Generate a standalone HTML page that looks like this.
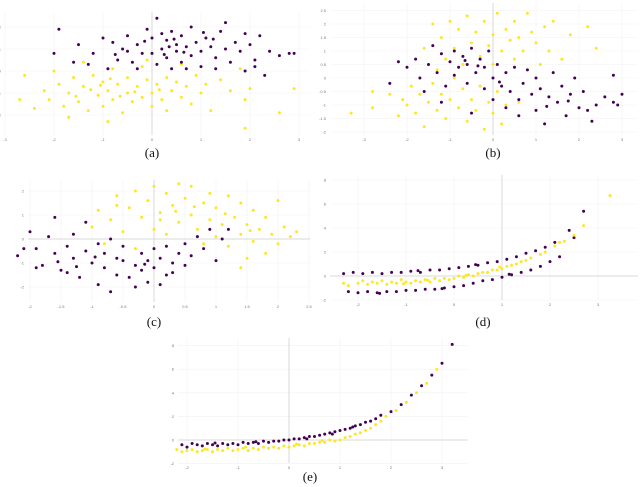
<!DOCTYPE html>
<html><head><meta charset="utf-8"><style>
body{margin:0;background:#fff}
svg{display:block}
.tk{font-family:"Liberation Sans",sans-serif;font-size:4px;fill:#777}
.cap{font-family:"Liberation Serif",serif;font-size:13px;fill:#111}
</style></head><body>
<svg id="fig" width="640" height="487" viewBox="0 0 640 487" xmlns="http://www.w3.org/2000/svg">
<text class="cap" x="152" y="157" text-anchor="middle">(a)</text>
<text class="cap" x="493" y="157" text-anchor="middle">(b)</text>
<text class="cap" x="154" y="326" text-anchor="middle">(c)</text>
<text class="cap" x="483" y="326" text-anchor="middle">(d)</text>
<text class="cap" x="310" y="481" text-anchor="middle">(e)</text>
</svg>
<script>
// ---- data (x, y pairs) ----
const aPurple=[[-1.9,1.9],[-1.5,1.2],[-1.2,0.8],[-1,1.5],[-0.8,1.3],[-0.7,0.5],[-0.6,1],[-0.5,1.6],[-0.4,0.4],[-0.3,1.2],[-0.2,0.8],[-0.1,1.9],[0,1.5],[0.1,0.3],[0.1,2.4],[0.2,1],[0.3,1.4],[0.3,0.6],[0.4,1.8],[0.5,0.9],[0.5,1.2],[0.6,0.4],[0.6,1.6],[0.7,1.1],[0.8,0.7],[0.8,2],[0.9,1.3],[1,0.9],[1,0.2],[1.1,1.5],[1.2,1.1],[1.3,0.6],[1.4,1.8],[1.5,1],[1.6,0.4],[1.7,1.3],[1.8,0.9],[1.9,1.7],[2,1.2],[2.1,0.5],[2.2,1.6],[2.4,0.9],[2.6,0.7],[2.8,0.8],[2.9,0.8],[-1.3,0.3],[-0.9,0.1],[0,0.8],[0.4,0.1],[1.3,0.1],[-0.5,0.9],[0.2,1.7],[0.7,0.1],[1.9,0],[2.1,0.2],[-2,0.8],[-1.6,0.4],[1.5,2.2],[-0.3,0.1],[2.3,-0.2],[0.35,1.1],[0.45,1.45],[0.25,0.75],[-0.15,1.35],[1.05,1.75],[0.65,0.85],[1.25,1.45],[-0.75,0.75]];
const aYellow=[[-2.7,-1.3],[-2.6,-0.2],[-2.4,-1.7],[-2.2,-0.9],[-2.1,-1.3],[-2,0],[-1.9,-0.6],[-1.8,-1.6],[-1.7,-1],[-1.6,-0.3],[-1.5,-1.4],[-1.4,-0.7],[-1.3,-1.8],[-1.2,-0.2],[-1.1,-1.1],[-1,-0.5],[-1,-1.6],[-0.9,-0.9],[-0.8,-1.3],[-0.8,0.1],[-0.7,-0.6],[-0.6,-1.9],[-0.5,-1],[-0.5,-0.3],[-0.4,-1.4],[-0.3,-0.7],[-0.2,-1.2],[-0.2,0.2],[-0.1,-0.4],[0,-1],[0,-1.6],[0.1,-0.6],[0.2,-1.3],[0.3,-0.3],[0.3,-1.8],[0.4,-0.9],[0.5,-0.5],[0.6,-1.2],[0.7,-0.7],[0.8,-1.5],[0.9,-0.2],[1,-1],[1.1,-0.6],[1.2,-1.8],[1.4,-0.4],[1.6,-0.9],[1.8,0.1],[1.9,-1.3],[2,-0.8],[2.6,-1.9],[2.9,-0.8],[-1.7,-2.1],[-0.9,-2.3],[-1.4,0.4],[-0.1,0.5],[0.6,0.3],[1.9,-2.6],[-1.25,-0.85],[-0.65,-1.15],[-0.35,-0.95],[-1.05,-0.65],[0.15,-0.85],[-1.55,-1.15],[-0.85,-0.35]];
const bPurple=[[-2.4,-0.2],[-2.2,0.6],[-2,0.4],[-1.8,0.7],[-1.7,0],[-1.6,-0.5],[-1.5,0.5],[-1.4,1.2],[-1.3,0.2],[-1.2,0.9],[-1.1,-0.3],[-1,0.6],[-0.9,1],[-0.9,0.1],[-0.8,0.4],[-0.7,0.8],[-0.6,-0.2],[-0.6,0.5],[-0.5,1.1],[-0.4,0.2],[-0.3,0.7],[-0.2,-0.4],[-0.2,0.4],[-0.1,1],[0,0],[0,-0.8],[0.1,0.5],[0.2,-0.3],[0.3,0.2],[0.3,-1.1],[0.4,-0.5],[0.5,0.4],[0.6,-0.8],[0.7,-0.2],[0.8,0.3],[0.9,-0.6],[1,-1.2],[1,0],[1.1,-0.4],[1.2,-1.7],[1.3,-0.7],[1.4,0.2],[1.5,-0.9],[1.6,-0.3],[1.7,-1.4],[1.8,-0.6],[1.9,0],[2,-1.1],[2.1,-0.5],[2.2,-1.2],[2.3,-1.6],[2.4,-1],[2.6,-0.7],[2.8,-0.9],[2.9,-1],[3,-0.6],[2.8,0.1],[-0.5,-1.3],[0.6,-1.4],[-1.2,-0.9],[-0.65,0.65],[-0.35,0.45],[0.15,-0.15],[1.25,-1.05],[1.75,-0.85]];
const bYellow=[[-1.4,2],[-1.2,1.5],[-1.1,0.7],[-1,2.1],[-0.9,1.1],[-0.8,1.8],[-0.7,0.5],[-0.6,2.3],[-0.5,1.3],[-0.4,1.7],[-0.3,0.8],[-0.2,2.1],[-0.1,1.2],[0,1.6],[0,0.5],[0.1,2.4],[0.2,1],[0.3,1.8],[0.4,1.4],[0.5,0.7],[0.5,2.1],[0.6,1.5],[0.7,1],[0.8,2.4],[0.9,1.7],[1,1.3],[1.1,0.5],[1.2,1.9],[1.3,1],[1.4,2.1],[1.6,0.7],[1.8,1.6],[2.2,1.9],[2.4,1.1],[-1.6,1.1],[-1.3,0.3],[-3.3,-1.3],[-2.8,-0.5],[-2.8,-1.1],[-2.4,-0.6],[-2.2,-1.4],[-2.1,-0.8],[-2,-1],[-1.9,-0.3],[-1.8,-1.3],[-1.7,-0.6],[-1.6,-1.8],[-1.5,-0.9],[-1.4,-0.2],[-1.3,-1.2],[-1.2,-0.6],[-1.1,-1.5],[-1,-0.8],[-0.9,0],[-0.8,-1.1],[-0.7,-0.4],[-0.6,-1.6],[-0.5,-0.8],[-0.4,-1.2],[-0.3,-0.3],[-0.2,-1.9],[-0.1,-0.9],[0,-1.3],[0.1,-0.5],[0.3,-1],[0.6,-0.9],[0.2,-1.7]];
const cPurple=[[-2.2,-0.7],[-2,0.3],[-1.9,-0.4],[-1.8,-1.1],[-1.7,0.1],[-1.6,-0.6],[-1.6,0.9],[-1.5,-1.3],[-1.4,-0.3],[-1.3,-0.8],[-1.3,0.2],[-1.2,-1.6],[-1.1,-0.5],[-1.1,0.7],[-1,-1],[-0.9,-0.2],[-0.9,-1.9],[-0.8,-1.2],[-0.8,-0.6],[-0.7,-2.2],[-0.7,0],[-0.6,-1.5],[-0.5,-0.9],[-0.5,-0.3],[-0.4,-1.6],[-0.3,-1.1],[-0.3,-2],[-0.2,-0.6],[-0.2,-1.3],[-0.1,-0.9],[-0.1,-1.8],[0,-0.4],[0,-1.2],[0.1,-0.8],[0.1,-1.9],[0.2,-0.3],[0.3,-1],[0.3,-1.4],[0.4,-0.6],[0.5,-0.2],[0.5,-1.1],[0.6,-0.7],[0.7,0.1],[0.8,-0.4],[0.9,0.4],[1,-0.9],[1.1,0],[1.2,0.4],[-1.4,-1.4],[-1.9,-1.2],[-2.1,-0.4],[-0.6,-0.8],[0.2,-1.5],[-1.55,-0.95],[-1.25,-1.15],[-0.95,-0.75],[-0.15,-1.05]];
const cYellow=[[-1,0.5],[-0.9,1.2],[-0.8,-0.2],[-0.7,0.8],[-0.6,1.8],[-0.5,0.3],[-0.4,1.3],[-0.3,2],[-0.3,-0.4],[-0.2,0.9],[-0.1,1.6],[0,0.4],[0,2.2],[0.1,1.1],[0.2,1.9],[0.2,0.2],[0.3,1.4],[0.4,2.3],[0.4,0.7],[0.5,1.7],[0.6,1],[0.6,2.2],[0.7,0.4],[0.8,1.5],[0.9,0.8],[0.9,1.9],[1,0.1],[1,1.3],[1.1,0.6],[1.2,1.8],[1.2,-0.3],[1.3,0.9],[1.4,0.2],[1.4,1.5],[1.5,0.6],[1.6,-0.1],[1.6,1.2],[1.7,0.4],[1.8,-0.6],[1.8,0.9],[1.9,0.2],[2,1.6],[2,-0.2],[2.1,0.5],[2.2,0.1],[2.3,0.3],[1.4,-1.2],[1.5,-0.8],[-0.6,1.4],[0.1,0.8],[0.8,-0.2],[0.35,1.15],[1.15,1.05],[0.65,1.35],[1.55,0.35]];
const dPurple=[[-2.3,0.2],[-2.2,-1.3],[-2.1,0.3],[-2,-1.4],[-1.9,0.2],[-1.8,-1.3],[-1.7,0.3],[-1.6,-1.4],[-1.5,0.2],[-1.4,-1.3],[-1.3,0.3],[-1.2,-1.3],[-1.1,0.3],[-1,-1.2],[-0.9,0.4],[-0.8,-1.2],[-0.7,0.3],[-0.6,-1.1],[-0.5,0.5],[-0.4,-1.1],[-0.3,0.5],[-0.2,-1],[-0.1,0.6],[0,-0.9],[0.1,0.7],[0.2,-0.8],[0.3,0.8],[0.4,-0.6],[0.5,0.9],[0.6,-0.4],[0.7,1.1],[0.8,-0.3],[0.9,1.2],[1,-0.1],[1.1,1.4],[1.2,0.1],[1.3,1.6],[1.4,0.3],[1.5,1.9],[1.6,0.5],[1.7,2.1],[1.8,0.8],[1.9,2.4],[2,1.2],[2.1,2.8],[2.2,1.6],[2.4,3.8],[2.5,3.2],[2.7,5.4],[-1.55,-1.45],[-0.75,0.45],[-0.25,-1.05],[0.45,0.95],[1.15,0.15]];
const dYellow=[[-2.3,-0.6],[-2.2,-0.8],[-2,-0.6],[-1.9,-0.4],[-1.8,-0.7],[-1.7,-0.5],[-1.6,-0.6],[-1.5,-0.4],[-1.4,-0.7],[-1.3,-0.5],[-1.2,-0.6],[-1.1,-0.3],[-1,-0.5],[-0.9,-0.6],[-0.8,-0.4],[-0.7,-0.5],[-0.6,-0.3],[-0.5,-0.5],[-0.4,-0.2],[-0.3,-0.4],[-0.2,-0.2],[-0.1,-0.3],[0,-0.2],[0.1,0],[0.2,-0.1],[0.3,0.1],[0.4,0],[0.5,0.2],[0.6,0.3],[0.7,0.3],[0.8,0.5],[0.9,0.5],[1,0.6],[1.1,0.8],[1.2,0.9],[1.3,1],[1.4,1.2],[1.5,1.3],[1.6,1.5],[1.8,1.8],[1.9,2],[2.1,2.5],[2.2,2.8],[2.3,2.9],[2.5,3.4],[2.7,4.2],[3.25,6.7],[-1.05,-0.65],[-0.55,-0.35],[0.25,0.05],[0.95,0.75]];
const ePurple=[[-2.1,-0.4],[-2,-0.6],[-1.9,-0.3],[-1.8,-0.4],[-1.7,-0.5],[-1.6,-0.3],[-1.5,-0.4],[-1.4,-0.5],[-1.3,-0.3],[-1.2,-0.4],[-1.1,-0.3],[-1,-0.4],[-0.9,-0.2],[-0.8,-0.3],[-0.7,-0.2],[-0.6,-0.3],[-0.5,-0.1],[-0.4,-0.2],[-0.3,-0.1],[-0.2,-0.1],[-0.1,0],[0,0],[0.1,0.1],[0.2,0.1],[0.3,0.2],[0.4,0.3],[0.5,0.3],[0.6,0.4],[0.7,0.5],[0.8,0.6],[0.9,0.7],[1,0.8],[1.1,0.9],[1.2,1],[1.3,1.2],[1.4,1.3],[1.5,1.5],[1.6,1.6],[1.7,1.8],[1.8,2.1],[2,2.4],[2.2,3],[2.4,3.8],[2.6,4.6],[2.8,5.5],[3,6.5],[3.2,8.1],[-1.45,-0.25],[-0.65,-0.15],[0.35,0.1],[0.85,0.5],[1.25,1.1]];
const eYellow=[[-2.2,-0.8],[-2.1,-1],[-2,-0.9],[-1.9,-0.8],[-1.8,-1],[-1.7,-0.9],[-1.6,-0.8],[-1.5,-1],[-1.4,-0.8],[-1.3,-0.9],[-1.2,-0.7],[-1.1,-0.9],[-1,-0.8],[-0.9,-0.7],[-0.8,-0.9],[-0.7,-0.7],[-0.6,-0.8],[-0.5,-0.6],[-0.4,-0.7],[-0.3,-0.6],[-0.2,-0.7],[-0.1,-0.5],[0,-0.6],[0.1,-0.5],[0.2,-0.4],[0.3,-0.5],[0.4,-0.3],[0.5,-0.3],[0.6,-0.2],[0.7,-0.2],[0.8,0],[0.9,-0.1],[1,0],[1.1,0.2],[1.2,0.3],[1.3,0.5],[1.4,0.6],[1.5,0.8],[1.6,1],[1.7,1.3],[1.8,1.6],[1.9,2],[2.1,2.5],[2.3,3.2],[2.5,4],[2.7,4.8],[2.9,6],[-1.65,-0.75],[-0.85,-0.6],[0.15,-0.35],[0.65,-0.05]];

// ---- tick labels ----
const aXTicks=[-3,-2,-1,0,1,2,3], aYTicks=[2,1,0,-1,-2];
const bXTicks=[-3,-2,-1,0,1,2,3], bYTicks=[2.5,2,1.5,1,0.5,0,-0.5,-1,-1.5,-2];
const cXTicks=[-2,-1.5,-1,-0.5,0,0.5,1,1.5,2,2.5], cYTicks=[2,1,0,-1,-2];
const dXTicks=[-2,-1,0,1,2,3], dYTicks=[8,6,4,2,0,-2];
const eXTicks=[-2,-1,0,1,2,3], eYTicks=[8,6,4,2,0,-2];

const NS='http://www.w3.org/2000/svg';
const svg=document.getElementById('fig');
function mk(tag,attrs){const e=document.createElementNS(NS,tag);for(const k in attrs)e.setAttribute(k,attrs[k]);return e;}

function panel(id,cfg,purple,yellow,xt,yt,purpleOnTop){
  const g=mk('g',{});
  
  
  svg.appendChild(g);
  const sx=v=>cfg.x0+v*cfg.kx, sy=v=>cfg.y0-v*cfg.ky;
  xt.forEach(t=>{const l=mk('line',{x1:sx(t),x2:sx(t),y1:cfg.top,y2:cfg.bot,stroke:'#f2f2f2','stroke-width':0.6});
    
    
    g.appendChild(l);
    const tx=mk('text',{x:sx(t),y:cfg.bot+6,'text-anchor':'middle',class:'tk'});tx.textContent=t;
    
    
    g.appendChild(tx);});
  yt.forEach(t=>{const l=mk('line',{x1:cfg.left,x2:cfg.right,y1:sy(t),y2:sy(t),stroke:'#f2f2f2','stroke-width':0.6});
    
    
    g.appendChild(l);
    const tx=mk('text',{x:cfg.left-4,y:sy(t)+1.5,'text-anchor':'end',class:'tk'});tx.textContent=t;
    
    
    g.appendChild(tx);});
  if(cfg.vx!==undefined){const l=mk('line',{x1:sx(cfg.vx),x2:sx(cfg.vx),y1:cfg.top,y2:cfg.bot,stroke:'#d8d8d8','stroke-width':1});
    
    
    g.appendChild(l);}
  if(cfg.hy!==undefined){const l=mk('line',{x1:cfg.left,x2:cfg.right,y1:sy(cfg.hy),y2:sy(cfg.hy),stroke:'#d8d8d8','stroke-width':1});
    
    
    g.appendChild(l);}
  const draw=(pts,col,name)=>pts.forEach(p=>{const c=mk('circle',{cx:sx(p[0]),cy:sy(p[1]),r:1.5,fill:col});
    
    
    g.appendChild(c);});
  if(purpleOnTop){draw(yellow,'#fde725','point-yellow');draw(purple,'#440154','point-purple');}
  else{draw(purple,'#440154','point-purple');draw(yellow,'#fde725','point-yellow');}
}
panel('a',{x0:152,kx:49,y0:71,ky:22,left:5,right:310,top:12,bot:135,vx:0},aPurple,aYellow,aXTicks,aYTicks,true);
panel('b',{x0:493,kx:43,y0:78,ky:27,left:330,right:638,top:3,bot:135,vx:0},bPurple,bYellow,bXTicks,bYTicks,true);
panel('c',{x0:154,kx:62,y0:239,ky:24,left:28,right:310,top:180,bot:302,vx:0,hy:0},cPurple,cYellow,cXTicks,cYTicks,false);
panel('d',{x0:454,kx:48,y0:276,ky:12,left:330,right:638,top:175,bot:300,vx:1,hy:0},dPurple,dYellow,dXTicks,dYTicks,false);
panel('e',{x0:289,kx:51,y0:440,ky:11.8,left:178,right:468,top:338,bot:463,vx:0,hy:0},ePurple,eYellow,eXTicks,eYTicks,true);
</script>
</body></html>
